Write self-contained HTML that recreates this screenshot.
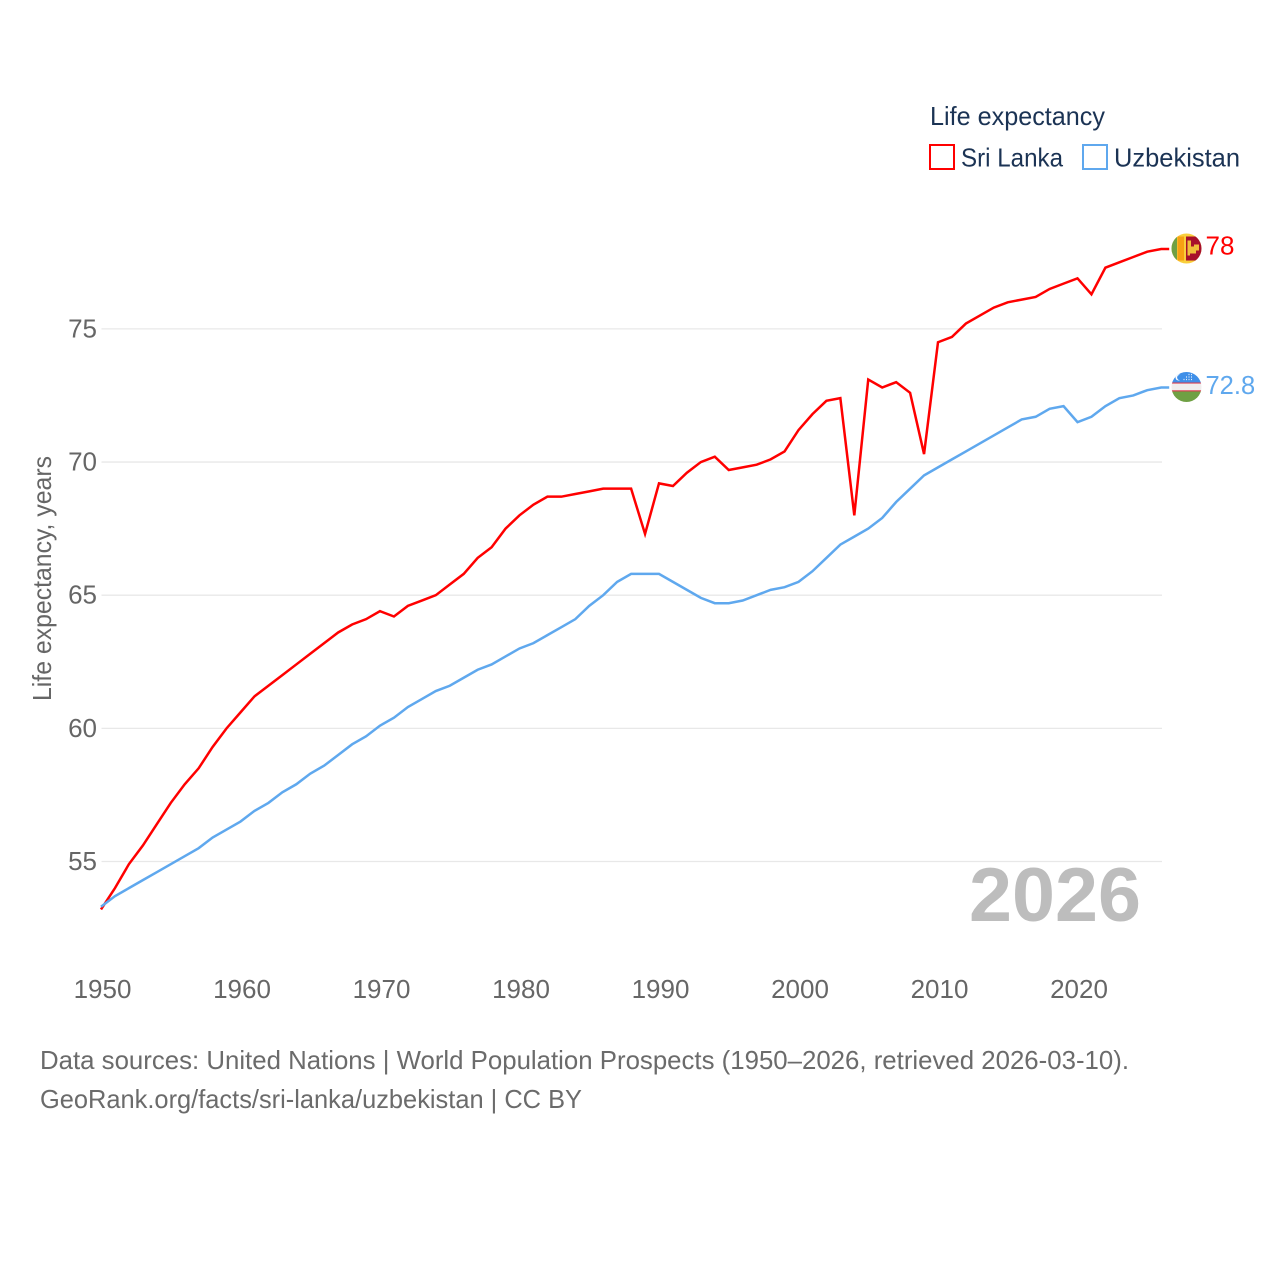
<!DOCTYPE html>
<html lang="en">
<head>
<meta charset="utf-8">
<title>Life expectancy: Sri Lanka and Uzbekistan</title>
<style>
html,body{margin:0;padding:0;background:#fff}
svg{display:block}
text{font-family:"Liberation Sans",sans-serif}
.tick{font-size:26px;fill:#666}
.legend{font-size:26px;fill:#1b3354}
.foot{font-size:26px;fill:#6b6b6b}
</style>
</head>
<body>
<svg id="chart" width="1280" height="1280" viewBox="0 0 1280 1280" xmlns="http://www.w3.org/2000/svg">
  <defs>
    <clipPath id="flag-clip"><circle cx="0" cy="0" r="15"></circle></clipPath>
  </defs>
  <rect x="0" y="0" width="1280" height="1280" fill="#fff"></rect>
  <g id="grid"></g>
  <g id="yticks"></g>
  <g id="xticks"></g>
  <text class="tick" transform="translate(51,578.5) rotate(-90)" text-anchor="middle" textLength="245" lengthAdjust="spacingAndGlyphs">Life expectancy, years</text>
  <text x="969" y="921" font-size="76" font-weight="bold" fill="#bdbdbd" textLength="172" lengthAdjust="spacingAndGlyphs">2026</text>
  <g id="series"></g>

  <g id="flag-lk">
    <g clip-path="url(#flag-clip)">
      <rect x="-15" y="-15" width="30" height="30" fill="#f9cf3c"></rect>
      <rect x="-15" y="-12" width="5.5" height="24" fill="#6fa043"></rect>
      <rect x="-9" y="-12" width="6.5" height="24" fill="#f7a013"></rect>
      <rect x="-0.5" y="-12" width="15.5" height="24" fill="#a70f2b"></rect>
      <path d="M1 -8h3.5v6h3v-2h5v6h-3v3h-6v2h-2.500z" fill="#f0bd3a"></path>
    </g>
  </g>
  <g id="flag-uz">
    <g clip-path="url(#flag-clip)">
      <rect x="-15" y="-15" width="30" height="10.5" fill="#3f8fe8"></rect>
      <rect x="-15" y="-4.500" width="30" height="1.2" fill="#d83a4c"></rect>
      <rect x="-15" y="-3.3" width="30" height="6.6" fill="#f0eeee"></rect>
      <rect x="-15" y="3.3" width="30" height="1.2" fill="#d83a4c"></rect>
      <rect x="-15" y="4.500" width="30" height="10.5" fill="#6fa043"></rect>
      <circle cx="-8" cy="-9.500" r="3" fill="#fff"></circle>
      <circle cx="-6.800" cy="-9.500" r="2.600" fill="#3f8fe8"></circle>
      <path d="M-3 -7.500h1M-0.500 -7.500h1M2 -7.500h1M4.500 -7.500h1M-0.500 -10h1M2 -10h1M4.500 -10h1M2 -12.500h1M4.500 -12.500h1" stroke="#e4eefb" stroke-width="1.2"></path>
    </g>
  </g>
  <text id="label-lk" font-size="26" fill="#ff0000"></text>
  <text id="label-uz" font-size="25.5" fill="#5fa8ee"></text>

  <g>
    <text class="legend" x="930" y="125" textLength="175" lengthAdjust="spacingAndGlyphs">Life expectancy</text>
    <rect x="930" y="145" width="24" height="24" fill="none" stroke="#ff0000" stroke-width="2"></rect>
    <text class="legend" x="961" y="166.500" textLength="102" lengthAdjust="spacingAndGlyphs">Sri Lanka</text>
    <rect x="1083" y="145" width="24" height="24" fill="none" stroke="#5fa8ee" stroke-width="2"></rect>
    <text class="legend" x="1114" y="166.500" textLength="126" lengthAdjust="spacingAndGlyphs">Uzbekistan</text>
  </g>

  <text class="foot" x="40" y="1069" textLength="1089" lengthAdjust="spacingAndGlyphs">Data sources: United Nations | World Population Prospects (1950–2026, retrieved 2026-03-10).</text>
  <text class="foot" x="40" y="1108" textLength="542" lengthAdjust="spacingAndGlyphs">GeoRank.org/facts/sri-lanka/uzbekistan | CC BY</text>
</svg>
<script>
const startYear = 1950;
const xTickLabels = ["1950","1960","1970","1980","1990","2000","2010","2020"];
const yTickLabels = ["55","60","65","70","75"];
const sriLankaValues = [53.2,54.0,54.9,55.6,56.4,57.2,57.9,58.5,59.3,60.0,60.6,61.2,61.6,62.0,62.4,62.8,63.2,63.6,63.9,64.1,64.4,64.2,64.6,64.8,65.0,65.4,65.8,66.4,66.8,67.5,68.0,68.4,68.7,68.7,68.8,68.9,69.0,69.0,69.0,67.3,69.2,69.1,69.6,70.0,70.2,69.7,69.8,69.9,70.1,70.4,71.2,71.8,72.3,72.4,68.0,73.1,72.8,73.0,72.6,70.3,74.5,74.7,75.2,75.5,75.8,76.0,76.1,76.2,76.5,76.7,76.9,76.3,77.3,77.5,77.7,77.9,78.0];
const uzbekistanValues = [53.3,53.7,54.0,54.3,54.6,54.9,55.2,55.5,55.9,56.2,56.5,56.9,57.2,57.6,57.9,58.3,58.6,59.0,59.4,59.7,60.1,60.4,60.8,61.1,61.4,61.6,61.9,62.2,62.4,62.7,63.0,63.2,63.5,63.8,64.1,64.6,65.0,65.5,65.8,65.8,65.8,65.5,65.2,64.9,64.7,64.7,64.8,65.0,65.2,65.3,65.5,65.9,66.4,66.9,67.2,67.5,67.9,68.5,69.0,69.5,69.8,70.1,70.4,70.7,71.0,71.3,71.6,71.7,72.0,72.1,71.5,71.7,72.1,72.4,72.5,72.7,72.8];
const sriLankaEndLabel = "78";
const uzbekistanEndLabel = "72.8";

const NS = "http://www.w3.org/2000/svg";
function xScale(year){ return 101 + (year - 1950) * 13.95; }
function yScale(value){ return 861.5 - (value - 55) * 26.63; }
const plotRight = xScale(2026);

function make(tag, parent, attrs){
  const el = document.createElementNS(NS, tag);
  for (const k in attrs) el.setAttribute(k, attrs[k]);
  parent.appendChild(el);
  return el;
}

const gridGroup = document.getElementById("grid");
const yGroup = document.getElementById("yticks");
yTickLabels.forEach(function(label){
  const v = Number(label);
  const line = make("line", gridGroup, {x1:101.5, x2:1162, y1:yScale(v), y2:yScale(v), stroke:"#e8e8e8", "stroke-width":1.3});
  
  
  const t = make("text", yGroup, {x:97, y:yScale(v)+8.5, "text-anchor":"end", "class":"tick"});
  
  
  t.textContent = label;
});

const xGroup = document.getElementById("xticks");
xTickLabels.forEach(function(label){
  const t = make("text", xGroup, {x:xScale(Number(label))+1.5, y:998, "text-anchor":"middle", "class":"tick"});
  
  
  t.textContent = label;
});

function drawSeries(values, color, parent){
  const pts = values.map(function(v,i){ return xScale(startYear+i).toFixed(2)+","+yScale(v).toFixed(2); });
  const last = values[values.length-1];
  pts.push((plotRight+8).toFixed(2)+","+yScale(last).toFixed(2));
  return make("polyline", parent, {points:pts.join(" "), fill:"none", stroke:color, "stroke-width":2.5, "stroke-linejoin":"miter"});
}
const seriesGroup = document.getElementById("series");
const sriLine = drawSeries(sriLankaValues, "#ff0000", seriesGroup);


const uzLine = drawSeries(uzbekistanValues, "#5fa8ee", seriesGroup);



function placeEnd(flagId, labelId, values, text, dy){
  const y = yScale(values[values.length-1]);
  document.getElementById(flagId).setAttribute("transform", "translate(1186.5,"+(y-0.5)+")");
  const l = document.getElementById(labelId);
  l.setAttribute("x", 1205.5);
  l.setAttribute("y", y+dy);
  l.textContent = text;
}
placeEnd("flag-lk", "label-lk", sriLankaValues, sriLankaEndLabel, 5.5);
placeEnd("flag-uz", "label-uz", uzbekistanValues, uzbekistanEndLabel, 6.5);
</script>
</body>
</html>
